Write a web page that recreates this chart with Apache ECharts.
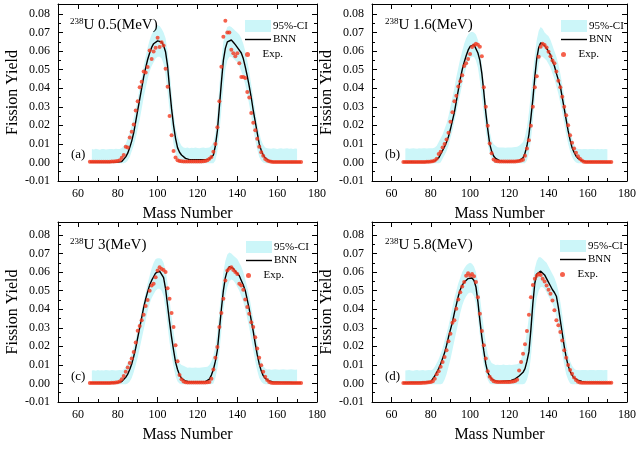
<!DOCTYPE html>
<html><head><meta charset="utf-8">
<script src="https://cdn.jsdelivr.net/npm/echarts@6/dist/echarts.min.js"></script>
<style>html,body{margin:0;padding:0;background:#fff}#c{width:639px;height:452px}</style>
</head><body><div id="c"></div>
<script>
// ---------------- data ----------------
// mass numbers of the experimental points / BNN curve: 66..172
const massNumbers = []; for (let a = 66; a <= 172; a++) massNumbers.push(a);
// mass numbers of the 95% confidence band: 67..170
const ciMass = []; for (let a = 67; a <= 170; a++) ciMass.push(a);

const panelTags = ['(a)', '(b)', '(c)', '(d)'];
const energies = ['0.5', '1.6', '3', '5.8'];
const xMajorTicks = [60, 80, 100, 120, 140, 160, 180];
const xMinorTicks = [50, 70, 90, 110, 130, 150, 170];

// ---- panel (a) 0.5 MeV ----
const expA = [
0.0004,0.0004,0.0004,0.0004,0.0004,0.0004,0.0004,0.0004,0.0004,0.0004,0.0004,0.0005,0.0005,0.0006,0.0008,0.0012,
0.0025,0.004,0.0085,0.008,0.0135,0.0165,0.0205,0.028,0.033,0.0405,0.0435,0.049,0.0485,0.0515,0.0603,0.0557,0.0598,0.0618,0.0672,0.0622,0.0648,0.063,0.0505,0.0408,0.025,0.0147,0.0062,0.0027,0.0012,
0.0008,0.0006,0.0005,0.0005,0.0005,0.0005,0.0005,0.0005,0.0005,0.0005,0.0005,0.0005,0.0006,0.0008,0.0012,0.002,
0.003,0.0057,0.010,0.019,0.033,0.0516,0.0678,0.0764,0.070,0.070,0.0607,0.0588,0.0573,0.0588,0.0535,0.046,0.046,0.0455,0.038,0.035,0.0267,0.0214,0.0173,0.0128,0.0085,0.0055,0.0036,0.0018,0.001,
0.0006,0.0004,0.0003,0.0003,0.0003,0.0003,0.0003,0.0003,0.0003,0.0003,0.0003,0.0003,0.0003,0.0003,0.0003,0.0003,0.0003];
const bnnA = [
0.0002,0.0002,0.0002,0.0002,0.0002,0.0002,0.0002,0.0002,0.0002,0.0002,0.0002,0.0002,0.0002,0.0002,0.0002,
0.0003,0.0005,0.0015,0.003,0.005,0.008,0.0115,0.016,0.022,0.028,0.034,0.040,0.046,0.051,0.0555,0.059,0.062,0.064,0.065,0.0655,0.0655,0.065,0.063,0.0595,0.052,0.040,0.029,0.020,0.013,0.008,0.0055,0.004,0.003,0.0022,0.002,
0.0015,0.0015,0.0015,0.0015,0.0015,0.0015,0.0015,0.0015,0.0015,0.0015,
0.0018,0.002,0.004,0.009,0.017,0.030,0.043,0.055,0.0615,0.065,0.066,0.066,0.0648,0.0635,0.062,0.061,0.059,0.056,0.0515,0.0465,0.041,0.035,0.028,0.022,0.016,0.010,0.0066,0.004,0.0025,0.0015,0.0008,
0.0004,0.0004,0.0003,0.0003,0.0003,0.0003,0.0002,0.0002,0.0002,0.0002,0.0002,0.0002,0.0002,0.0002,0.0002,0.0002];
const ciUpA = [
0.0072,0.0070,0.0074,0.0071,0.0069,0.0073,0.0072,0.0070,0.0071,0.0073,0.0072,0.0071,0.0074,0.0072,0.0073,
0.0078,0.0088,0.010,0.013,0.016,0.020,0.024,0.029,0.034,0.040,0.046,0.052,0.057,0.062,0.066,0.069,0.071,0.073,0.074,0.0735,0.072,0.070,0.067,0.060,0.050,0.038,0.027,0.019,0.014,0.011,0.009,0.008,
0.0078,0.0080,0.0077,0.0079,0.0078,0.0080,0.0078,0.0077,0.0079,0.0080,0.0078,0.0079,
0.008,0.009,0.011,0.016,0.027,0.041,0.055,0.065,0.070,0.073,0.0735,0.073,0.072,0.071,0.070,0.069,0.067,0.064,0.060,0.055,0.049,0.042,0.035,0.028,0.021,0.016,0.012,0.0095,0.008,0.0076,
0.0075,0.0074,0.0076,0.0075,0.0073,0.0075,0.0076,0.0074,0.0075,0.0076,0.0074,0.0075,0.0073,0.0075,0.0074];
const ciLoA = [
-0.0005,-0.0005,-0.0005,-0.0005,-0.0005,-0.0005,-0.0005,-0.0005,-0.0005,-0.0005,-0.0005,-0.0005,-0.0005,-0.0005,-0.0005,-0.0005,-0.0005,
0.0,0.001,0.003,0.006,0.009,0.013,0.018,0.023,0.029,0.035,0.040,0.045,0.049,0.052,0.054,0.056,0.057,0.057,0.056,0.053,0.047,0.038,0.028,0.018,0.010,0.005,0.002,0.0,
-0.0005,-0.0005,-0.0005,-0.0005,-0.0005,-0.0005,-0.0005,-0.0005,-0.0005,-0.0005,-0.0005,-0.0005,-0.0005,-0.0005,-0.0005,-0.0005,-0.0005,
0.001,0.006,0.016,0.028,0.040,0.050,0.055,0.057,0.057,0.056,0.055,0.054,0.052,0.049,0.046,0.042,0.037,0.031,0.025,0.018,0.012,0.007,0.003,0.001,0.0,
-0.0005,-0.0005,-0.0005,-0.0005,-0.0005,-0.0005,-0.0005,-0.0005,-0.0005,-0.0005,-0.0005,-0.0005,-0.0005,-0.0005,-0.0005,-0.0005,-0.0005];

// ---- panel (b) 1.6 MeV ----
const expB = [
0.0003,0.0003,0.0003,0.0003,0.0003,0.0003,0.0003,0.0003,0.0003,0.0003,0.0003,0.0003,0.0004,0.0004,0.0005,0.0007,0.001,
0.002,0.0045,0.0058,0.008,0.010,0.0124,0.016,0.022,0.027,0.033,0.036,0.041,0.0437,0.047,0.052,0.0534,0.0558,0.0585,0.0622,0.0632,0.064,0.0635,0.0624,0.0573,0.0405,0.030,0.0198,0.0102,0.0049,0.0016,0.0008,
0.0006,0.0005,0.0005,0.0005,0.0005,0.0005,0.0005,0.0005,0.0005,0.0005,0.0006,0.0008,0.001,0.0015,
0.0036,0.0075,0.012,0.0198,0.030,0.0405,0.0465,0.057,0.0624,0.064,0.0633,0.062,0.0597,0.0573,0.055,0.0534,0.049,0.044,0.0405,0.0354,0.030,0.0255,0.020,0.0147,0.0106,0.0075,0.0052,0.0034,0.002,0.001,
0.0004,0.0003,0.0003,0.0003,0.0003,0.0003,0.0003,0.0003,0.0003,0.0003,0.0003,0.0003,0.0003,0.0003,0.0003];
const bnnB = [
0.0003,0.0002,0.0001,0.0002,0.0004,0.0003,0.0001,0.0002,0.0003,0.0003,0.0002,0.0003,0.0004,0.0004,0.0005,0.0006,0.0008,
0.001,0.0025,0.0045,0.0065,0.0085,0.011,0.014,0.018,0.0225,0.027,0.033,0.039,0.045,0.050,0.054,0.0575,0.0605,0.0625,0.0635,0.0635,0.0625,0.059,0.055,0.048,0.038,0.027,0.018,0.010,0.006,0.0035,0.0022,0.0015,0.001,
0.0006,0.0005,0.0005,0.0004,0.0004,0.0005,0.0005,0.0006,0.0007,
0.001,0.0015,0.0025,0.005,0.009,0.015,0.024,0.034,0.046,0.056,0.062,0.0645,0.0645,0.063,0.0615,0.0605,0.058,0.0545,0.052,0.048,0.0445,0.041,0.035,0.029,0.023,0.017,0.012,0.008,0.0055,0.0035,0.0022,0.0014,0.0009,0.0006,
0.0004,0.0003,0.0004,0.0002,0.0003,0.0004,0.0003,0.0002,0.0003,0.0003,0.0002,0.0003,0.0002,0.0002];
const ciUpB = [
0.0075,0.0076,0.0074,0.0075,0.0077,0.0075,0.0074,0.0076,0.0075,0.0077,0.0076,0.0075,0.0076,0.0077,0.0076,
0.008,0.009,0.011,0.013,0.015,0.018,0.021,0.025,0.030,0.035,0.040,0.046,0.051,0.056,0.060,0.064,0.067,0.069,0.070,0.0705,0.070,0.069,0.066,0.061,0.053,0.043,0.033,0.024,0.017,0.012,0.010,0.009,
0.0082,0.0080,0.0081,0.0080,0.0079,0.0080,0.0081,0.0080,0.0082,0.0083,0.0085,
0.009,0.010,0.011,0.014,0.019,0.027,0.037,0.048,0.058,0.066,0.071,0.073,0.072,0.070,0.069,0.068,0.066,0.063,0.060,0.057,0.053,0.048,0.042,0.036,0.029,0.023,0.017,0.013,0.010,0.008,
0.0073,0.0072,0.0071,0.0073,0.0072,0.0071,0.0072,0.0073,0.0072,0.0071,0.0072,0.0071,0.0072,0.0071,0.0072,0.0071];
const ciLoB = [
-0.0005,-0.0005,-0.0005,-0.0005,-0.0005,-0.0005,-0.0005,-0.0005,-0.0005,-0.0005,-0.0005,-0.0005,-0.0005,-0.0005,-0.0005,-0.0005,-0.0005,-0.0005,
0.0,0.002,0.004,0.006,0.009,0.013,0.017,0.022,0.027,0.032,0.037,0.042,0.047,0.051,0.054,0.056,0.057,0.057,0.055,0.051,0.044,0.035,0.026,0.017,0.010,0.005,0.002,0.0,
-0.0005,-0.0005,-0.0005,-0.0005,-0.0005,-0.0005,-0.0005,-0.0005,-0.0005,-0.0005,-0.0005,-0.0005,-0.0005,-0.0005,-0.0005,-0.0005,
0.001,0.005,0.012,0.022,0.034,0.045,0.053,0.057,0.057,0.056,0.055,0.053,0.051,0.048,0.045,0.041,0.037,0.032,0.027,0.021,0.015,0.010,0.006,0.003,0.001,0.0,
-0.0005,-0.0005,-0.0005,-0.0005,-0.0005,-0.0005,-0.0005,-0.0005,-0.0005,-0.0005,-0.0005,-0.0005,-0.0005,-0.0005,-0.0005,-0.0005];

// ---- panel (c) 3 MeV ----
const expC = [
0.0003,0.0003,0.0003,0.0003,0.0003,0.0003,0.0003,0.0003,0.0003,0.0003,0.0003,0.0004,0.0004,0.0005,0.0007,0.001,
0.0023,0.004,0.0063,0.0086,0.011,0.0134,0.017,0.022,0.0284,0.031,0.034,0.037,0.0417,0.045,0.050,0.0528,0.0537,0.0572,0.0608,0.0626,0.0617,0.0612,0.060,0.0513,0.0456,0.038,0.0304,0.0206,0.012,0.0045,0.0023,0.001,
0.0006,0.0005,0.0005,0.0005,0.0005,0.0005,0.0005,0.0005,0.0005,0.0005,0.0005,0.0006,
0.0008,0.0025,0.0075,0.0138,0.0197,0.0304,0.038,0.0456,0.0555,0.0608,0.062,0.0626,0.0612,0.060,0.059,0.0537,0.0528,0.0505,0.0452,0.0412,0.0376,0.033,0.0304,0.0249,0.0188,0.0138,0.0098,0.0063,0.0036,0.0018,0.0008,
0.0004,0.0003,0.0003,0.0003,0.0003,0.0003,0.0003,0.0003,0.0003,0.0003,0.0003,0.0003,0.0003,0.0003,0.0003,0.0003];
const bnnC = [
0.0004,0.0004,0.0004,0.0004,0.0004,0.0004,0.0004,0.0004,0.0004,0.0004,0.0004,0.0004,0.0004,0.0004,0.0005,
0.0006,0.001,0.002,0.0033,0.005,0.0075,0.0105,0.0145,0.019,0.0245,0.030,0.0355,0.041,0.0455,0.0495,0.053,0.0555,0.0575,0.0595,0.0603,0.0605,0.060,0.057,0.051,0.042,0.033,0.025,0.018,0.0115,0.0075,0.0045,0.0028,0.0018,0.0013,0.001,
0.0008,0.0008,0.0008,0.0008,0.0008,0.0008,0.0008,0.0008,
0.001,0.0015,0.0023,0.0045,0.0075,0.012,0.018,0.029,0.040,0.050,0.057,0.061,0.063,0.063,0.062,0.0605,0.0595,0.058,0.0555,0.053,0.050,0.045,0.040,0.034,0.028,0.0215,0.0155,0.0105,0.0068,0.0042,0.0027,0.0018,0.0013,0.001,
0.0008,0.0007,0.0007,0.0006,0.0006,0.0005,0.0005,0.0005,0.0005,0.0004,0.0004,0.0004,0.0004,0.0004,0.0004];
const ciUpC = [
0.0070,0.0071,0.0069,0.0072,0.0070,0.0071,0.0070,0.0072,0.0071,0.0070,0.0072,0.0071,0.0070,0.0071,0.0072,0.0071,
0.0075,0.009,0.011,0.013,0.016,0.020,0.024,0.029,0.034,0.039,0.044,0.049,0.054,0.058,0.062,0.065,0.067,0.0675,0.0675,0.067,0.065,0.061,0.054,0.045,0.036,0.028,0.020,0.014,0.011,0.010,0.0095,0.009,
0.0085,0.0086,0.0084,0.0085,0.0086,0.0085,0.0084,0.0086,0.0087,0.0088,
0.009,0.010,0.012,0.015,0.020,0.028,0.039,0.050,0.060,0.066,0.0695,0.0705,0.070,0.069,0.068,0.067,0.065,0.063,0.060,0.056,0.052,0.047,0.041,0.035,0.028,0.022,0.016,0.012,0.0095,0.008,
0.0075,0.0076,0.0074,0.0075,0.0076,0.0075,0.0074,0.0075,0.0076,0.0075,0.0074,0.0075,0.0076,0.0075,0.0074,0.0075];
const ciLoC = [
-0.0005,-0.0005,-0.0005,-0.0005,-0.0005,-0.0005,-0.0005,-0.0005,-0.0005,-0.0005,-0.0005,-0.0005,-0.0005,-0.0005,-0.0005,-0.0005,-0.0005,-0.0005,
0.0,0.001,0.003,0.006,0.010,0.014,0.019,0.024,0.029,0.034,0.039,0.043,0.046,0.048,0.050,0.051,0.051,0.050,0.047,0.040,0.031,0.022,0.015,0.009,0.004,0.001,0.0,
-0.0005,-0.0005,-0.0005,-0.0005,-0.0005,-0.0005,-0.0005,-0.0005,-0.0005,-0.0005,-0.0005,-0.0005,-0.0005,-0.0005,-0.0005,-0.0005,
0.0,0.003,0.008,0.017,0.028,0.039,0.047,0.052,0.055,0.056,0.0555,0.054,0.052,0.050,0.047,0.044,0.040,0.035,0.030,0.024,0.018,0.012,0.007,0.003,0.001,0.0,
-0.0005,-0.0005,-0.0005,-0.0005,-0.0005,-0.0005,-0.0005,-0.0005,-0.0005,-0.0005,-0.0005,-0.0005,-0.0005,-0.0005,-0.0005,-0.0005,-0.0005];

// ---- panel (d) 5.8 MeV ----
const expD = [
0.0003,0.0003,0.0003,0.0003,0.0003,0.0003,0.0003,0.0003,0.0003,0.0003,0.0004,0.0004,0.0005,0.0006,0.0008,0.0012,
0.0025,0.005,0.0066,0.009,0.0116,0.0143,0.0179,0.0227,0.0268,0.0327,0.034,0.0403,0.0453,0.0492,0.0522,0.0546,0.0581,0.0594,0.0581,0.059,0.0577,0.0546,0.0465,0.0376,0.0282,0.0206,0.0134,0.0066,0.0036,0.0023,0.0012,
0.0009,0.0008,0.0008,0.0008,0.0008,0.0008,0.0008,0.0008,0.0009,0.001,0.0013,
0.002,0.007,0.0116,0.016,0.0211,0.0282,0.037,0.0465,0.0531,0.0564,0.0581,0.059,0.0585,0.0564,0.055,0.0528,0.0505,0.0483,0.0447,0.0394,0.034,0.0313,0.0277,0.0232,0.0179,0.0139,0.010,0.0073,0.0052,0.0032,0.0018,0.0009,
0.0005,0.0004,0.0004,0.0004,0.0004,0.0004,0.0004,0.0004,0.0004,0.0004,0.0004,0.0004,0.0004,0.0004,0.0004,0.0004,0.0004];
const bnnD = [
0.0004,0.0004,0.0004,0.0005,0.0005,0.0005,0.0005,0.0006,0.0006,0.0006,0.0007,0.0007,0.0008,0.0009,
0.001,0.0015,0.004,0.006,0.008,0.0105,0.0135,0.0165,0.0205,0.025,0.029,0.033,0.038,0.0425,0.047,0.0505,0.053,0.0545,0.0555,0.0565,0.057,0.0568,0.0555,0.052,0.044,0.034,0.025,0.0175,0.0105,0.006,0.004,0.0025,0.0018,
0.0013,0.001,0.001,0.0011,0.0012,0.0013,0.0014,0.0015,0.0016,0.002,0.0025,0.003,0.004,0.0045,0.006,0.008,0.012,0.017,0.029,0.043,0.054,0.059,0.060,0.0605,0.060,0.0585,0.0565,0.0545,0.0525,0.0505,0.049,0.047,0.041,0.034,0.027,0.020,0.014,0.0095,0.0065,0.0045,0.003,0.0023,0.0018,0.0014,0.0011,0.0009,0.0007,0.0006,
0.0005,0.0005,0.0005,0.0005,0.0005,0.0004,0.0004,0.0004,0.0004,0.0004,0.0004,0.0004];
const ciUpD = [
0.0070,0.0071,0.0072,0.0070,0.0069,0.0071,0.0072,0.0070,0.0071,0.0072,0.0070,0.0071,0.0072,0.0071,
0.0075,0.009,0.011,0.013,0.016,0.019,0.023,0.027,0.031,0.036,0.041,0.046,0.050,0.054,0.057,0.060,0.062,0.0635,0.0645,0.065,0.0645,0.063,0.060,0.055,0.047,0.038,0.030,0.022,0.016,0.013,0.011,0.0105,
0.0100,0.0101,0.0099,0.0100,0.0102,0.0100,0.0099,0.0101,0.0100,0.0101,0.0102,0.0104,
0.011,0.013,0.016,0.021,0.028,0.036,0.046,0.055,0.062,0.066,0.068,0.068,0.067,0.066,0.065,0.063,0.061,0.059,0.057,0.054,0.050,0.044,0.037,0.029,0.022,0.016,0.012,0.0095,0.008,
0.0072,0.0073,0.0071,0.0072,0.0073,0.0072,0.0071,0.0072,0.0073,0.0072,0.0071,0.0072,0.0073,0.0072,0.0071,0.0072,0.0072];
const ciLoD = [
-0.0005,-0.0005,-0.0005,-0.0005,-0.0005,-0.0005,-0.0005,-0.0005,-0.0005,-0.0005,-0.0005,-0.0005,-0.0005,-0.0005,-0.0005,-0.0005,-0.0005,-0.0005,-0.0005,
0.0,0.002,0.005,0.009,0.013,0.018,0.023,0.028,0.033,0.038,0.042,0.045,0.047,0.0485,0.049,0.0488,0.047,0.043,0.035,0.026,0.017,0.010,0.005,0.002,0.0,
-0.0005,-0.0005,-0.0005,-0.0005,-0.0005,-0.0005,-0.0005,-0.0005,-0.0005,-0.0005,-0.0005,-0.0005,-0.0005,-0.0005,-0.0005,-0.0005,-0.0005,
0.0,0.002,0.006,0.014,0.026,0.038,0.046,0.050,0.052,0.052,0.051,0.049,0.047,0.045,0.043,0.040,0.036,0.030,0.023,0.016,0.010,0.005,0.002,0.0,
-0.0005,-0.0005,-0.0005,-0.0005,-0.0005,-0.0005,-0.0005,-0.0005,-0.0005,-0.0005,-0.0005,-0.0005,-0.0005,-0.0005,-0.0005,-0.0005,-0.0005,-0.0005,-0.0005];

// ---------------- chart ----------------
const FONT = 'Liberation Serif';
const BAND = '#ccf6f9';
const RED = '#f23a1f';
const panels = [
  {exp: expA, bnn: bnnA, up: ciUpA, lo: ciLoA, grid: {left: 58, top: 4, width: 259, height: 177}, yMax: 0.0854, title: [70, 17], tag: [71, 148], legend: [245, 20]},
  {exp: expB, bnn: bnnB, up: ciUpB, lo: ciLoB, grid: {left: 372, top: 4, width: 260, height: 177}, yMax: 0.0854, title: [385, 17], tag: [385, 148], legend: [561, 20]},
  {exp: expC, bnn: bnnC, up: ciUpC, lo: ciLoC, grid: {left: 58, top: 222, width: 259, height: 180}, yMax: 0.087, title: [70, 237], tag: [71, 370], legend: [246, 241]},
  {exp: expD, bnn: bnnD, up: ciUpD, lo: ciLoD, grid: {left: 372, top: 222, width: 260, height: 180}, yMax: 0.087, title: [385, 237], tag: [385, 370], legend: [560, 240]}
];

const option = {animation: false, backgroundColor: '#fff', grid: [], xAxis: [], yAxis: [], series: [], title: [], legend: []};
const axLine = {lineStyle: {color: '#000', width: 1}};
const lbl = {color: '#000', fontFamily: FONT, fontSize: 12};

function xAx(g, pos, ticks, len, line, label, withName) {
  const a = {
    type: 'value', gridIndex: g, position: pos, min: 50, max: 180, interval: 10,
    axisLine: Object.assign({show: line, onZero: false}, axLine),
    axisTick: {show: true, inside: true, length: len, customValues: ticks, lineStyle: {color: '#000', width: 1}},
    axisLabel: Object.assign({show: label, customValues: ticks, margin: 7}, lbl),
    splitLine: {show: false}
  };
  if (withName) {
    a.name = 'Mass Number'; a.nameLocation = 'middle'; a.nameGap = 25;
    a.nameTextStyle = {color: '#000', fontFamily: FONT, fontSize: 16};
  }
  return a;
}
function yAx(g, pos, yMax, label, withName) {
  const a = {
    type: 'value', gridIndex: g, position: pos, min: -0.01, max: yMax, interval: 0.01,
    axisLine: Object.assign({show: true, onZero: false}, axLine),
    axisTick: {show: true, inside: true, length: 5, lineStyle: {color: '#000', width: 1}},
    minorTick: {show: true, splitNumber: 2, length: 3, lineStyle: {color: '#000', width: 1}},
    axisLabel: Object.assign({show: label, margin: 8, showMaxLabel: false, formatter: v => v.toFixed(2)}, lbl),
    splitLine: {show: false}, minorSplitLine: {show: false}
  };
  if (withName) {
    a.name = 'Fission Yield'; a.nameLocation = 'middle'; a.nameGap = 37;
    a.nameTextStyle = {color: '#000', fontFamily: FONT, fontSize: 16};
  }
  return a;
}

panels.forEach((p, g) => {
  option.grid.push(Object.assign({containLabel: false}, p.grid));
  option.xAxis.push(xAx(g, 'bottom', xMajorTicks, 5, true, true, true));
  option.xAxis.push(xAx(g, 'bottom', xMinorTicks, 3, false, false, false));
  option.xAxis.push(xAx(g, 'top', xMajorTicks, 5, true, false, false));
  option.xAxis.push(xAx(g, 'top', xMinorTicks, 3, false, false, false));
  option.yAxis.push(yAx(g, 'left', p.yMax, true, true));
  option.yAxis.push(yAx(g, 'right', p.yMax, false, false));
  const xi = 4 * g, yi = 2 * g;
  // 95% confidence band: one polygon through the library's coordinate system
  option.series.push({
    name: '95%-CI', type: 'custom', xAxisIndex: xi, yAxisIndex: yi, silent: true, z: 1,
    itemStyle: {color: BAND},
    encode: {x: 0, y: [1, 2]},
    data: ciMass.map((a, k) => [a, p.lo[k], p.up[k]]),
    renderItem: function (params, api) {
      if (params.dataIndex !== 0) return null;
      const pts = [];
      for (let k = 0; k < ciMass.length; k++) pts.push(api.coord([ciMass[k], p.up[k]]));
      for (let k = ciMass.length - 1; k >= 0; k--) pts.push(api.coord([ciMass[k], p.lo[k]]));
      return {type: 'polygon', shape: {points: pts}, style: {fill: BAND, stroke: null}};
    }
  });
  option.series.push({
    name: 'BNN', type: 'line', xAxisIndex: xi, yAxisIndex: yi, symbol: 'none', showSymbol: false,
    lineStyle: {color: '#000', width: 1.4}, itemStyle: {color: '#000'}, z: 2,
    data: massNumbers.map((a, k) => [a, p.bnn[k]])
  });
  option.series.push({
    name: 'Exp.', type: 'scatter', xAxisIndex: xi, yAxisIndex: yi, symbol: 'circle', symbolSize: 4,
    itemStyle: {color: RED}, z: 3,
    data: massNumbers.map((a, k) => [a, p.exp[k]])
  });
  option.title.push({
    text: '{s|238}{m|U ' + energies[g] + '(MeV)}', left: p.title[0], top: p.title[1], padding: 0,
    textStyle: {fontWeight: 'normal', rich: {
      s: {fontFamily: FONT, fontSize: 9, color: '#000', lineHeight: 10, verticalAlign: 'top'},
      m: {fontFamily: FONT, fontSize: 15, color: '#000', lineHeight: 16}
    }}
  });
  option.title.push({
    text: panelTags[g], left: p.tag[0], top: p.tag[1], padding: 0,
    textStyle: {fontWeight: 'normal', fontFamily: FONT, fontSize: 13, color: '#000'}
  });
  option.legend.push({
    left: p.legend[0], top: p.legend[1], orient: 'vertical', padding: 0, itemGap: 2,
    itemWidth: 26, itemHeight: 12, selectedMode: false,
    textStyle: {fontFamily: FONT, fontSize: 11, color: '#000', padding: [0, 0, 0, -3]},
    data: [
      {name: '95%-CI', icon: 'rect', itemStyle: {color: BAND, borderWidth: 0}},
      {name: 'BNN', icon: 'path://M0,0h26v1.4h-26z', itemStyle: {color: '#000', borderWidth: 0}}
    ]
  });
  option.legend.push({
    left: p.legend[0], top: p.legend[1] + 29, orient: 'vertical', padding: 0,
    itemWidth: 26, itemHeight: 5, selectedMode: false,
    textStyle: {fontFamily: FONT, fontSize: 11, color: '#000', padding: [0, 0, 0, -3]},
    data: [{name: 'Exp.', icon: 'circle', itemStyle: {color: RED}}]
  });
});

const chart = echarts.init(document.getElementById('c'), null, {renderer: 'canvas'});
chart.setOption(option);
</script>
</body></html>
